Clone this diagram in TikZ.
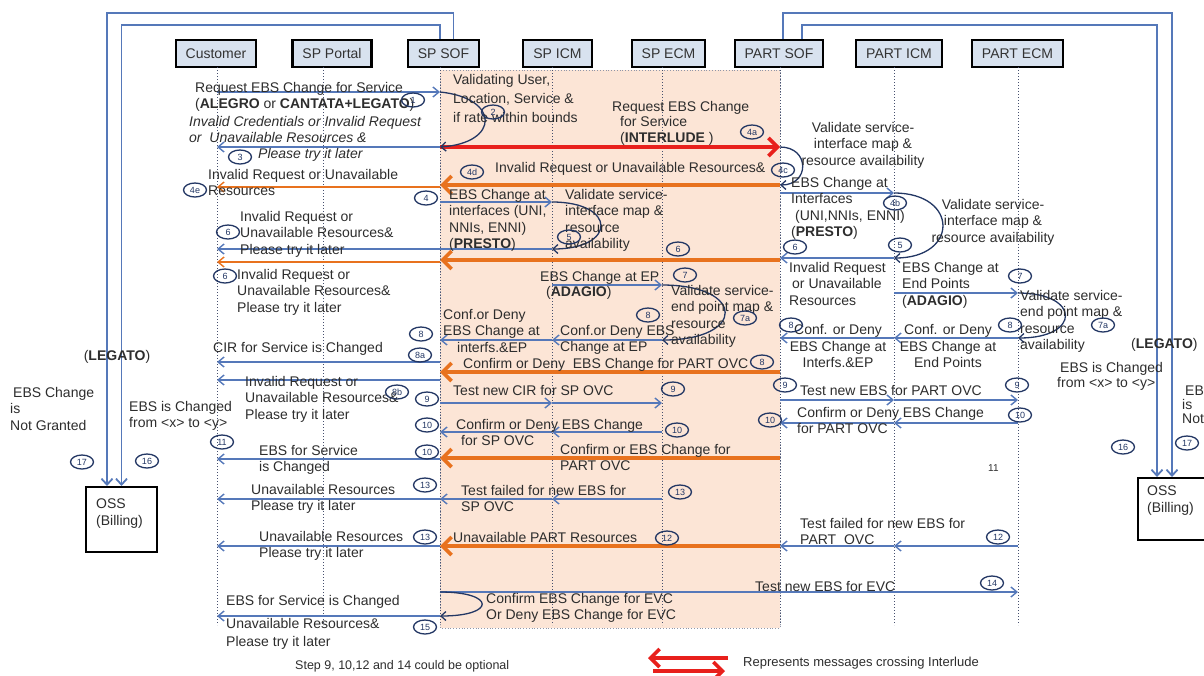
\documentclass[tikz,border=0pt]{standalone}
\usepackage{fontspec}
\setmainfont{Liberation Sans}
\usepackage{tikz}
\usetikzlibrary{arrows.meta,shapes.geometric}

\definecolor{seqblue}{RGB}{85,120,185}
\definecolor{seqorange}{RGB}{232,114,30}
\definecolor{seqred}{RGB}{232,32,28}
\definecolor{peach}{RGB}{252,229,214}
\definecolor{boxblue}{RGB}{216,226,239}
\definecolor{numnavy}{RGB}{35,55,100}
\definecolor{txtgray}{RGB}{45,45,45}
\definecolor{lifegray}{RGB}{70,80,110}

\newcommand{\lblfont}{\fontsize{14}{16.5}\selectfont}
\newcommand{\numfont}{\fontsize{9}{9}\selectfont}

\tikzstyle{actor}=[draw=black,line width=2.2pt,fill=boxblue,minimum height=27pt,inner xsep=10pt,inner ysep=0pt,font=\lblfont,text=black!80]
\tikzstyle{oss}=[draw=black,line width=2pt,fill=white]
\tikzstyle{lifeline}=[draw=lifegray,line width=1pt,dotted]
\tikzstyle{msg}=[draw=seqblue,line width=1.4pt,-{Straight Barb[length=6pt,width=10pt]}]
\tikzstyle{omsg}=[draw=seqorange,line width=1.4pt,-{Straight Barb[length=6pt,width=10pt]}]
\tikzstyle{bigmsg}=[draw=seqorange,line width=3.6pt,-{Straight Barb[length=9pt,width=18pt]}]
\tikzstyle{redmsg}=[draw=seqred,line width=3.6pt,-{Straight Barb[length=9pt,width=18pt]}]
\tikzstyle{selfloop}=[draw=numnavy,line width=1.3pt,-{Straight Barb[length=5pt,width=9pt]}]
\tikzstyle{feed}=[draw=seqblue,line width=1.8pt,-{Straight Barb[length=6pt,width=11pt]}]
\tikzstyle{num}=[ellipse,draw=numnavy,line width=1.3pt,minimum width=23pt,minimum height=14pt,inner sep=0.5pt,font=\numfont,text=numnavy]
\tikzstyle{lbl}=[align=left,inner sep=0pt,font=\lblfont,text=txtgray]

\begin{document}
\begin{tikzpicture}[x=1pt,y=-1pt]
\useasboundingbox (0,0) rectangle (1204,675);

% interlude area
\fill[peach] (440,70) rectangle (780,628);
\draw[lifegray!60,dotted,line width=0.8pt] (440,70) rectangle (780,628);

% actors
\node[actor] (hcust) at (216,53.5) {Customer};
\node[actor] (hportal) at (332,53.5) {SP Portal};
\node[actor] (hsof) at (443.5,53.5) {SP SOF};
\node[actor] (hicm) at (557.5,53.5) {SP ICM};
\node[actor] (hecm) at (668.5,53.5) {SP ECM};
\node[actor] (hpsof) at (779,53.5) {PART SOF};
\node[actor] (hpicm) at (899,53.5) {PART ICM};
\node[actor] (hpecm) at (1017.5,53.5) {PART ECM};

% lifelines
\foreach \nm/\x in {cust/217,portal/323,sof/440,icm/552,ecm/662,psof/780,picm/894,pecm/1018}{
  \coordinate (\nm) at (\x,67);
  \draw[lifeline] (\nm) -- (\x,625);
}

% message rows
\foreach \rw/\yy in {m1/92,m3/147,m4d/185,m4e/187,m4/202,m4b/193,m6a/249,m6b/260,m6c/262,m6p/258,
  m7/285,m7p/293,m8/340,m8p/338,m8a/362,m8o/372,m8b/380,m9/403,m9p/400,m10/432,m10p/423,
  m10o/458,m11/459,m13/499,m12/546,m14/592,m15/616}
  \coordinate (\rw) at (0,\yy);

% billing systems
\node[oss,minimum width=71pt,minimum height=65pt] (ossl) at (121.5,519.5) {};
\node[oss,minimum width=77pt,minimum height=62pt] (ossr) at (1176.5,509) {};
\node[lbl,anchor=north west] (ossltxt) at (96,499) {OSS\\(Billing)};
\node[lbl,anchor=north west] (ossrtxt) at (1147,486) {OSS\\(Billing)};

\draw[feed] ([xshift=10pt]hsof.north) -- ++(0,-26) -| ([xshift=-14.5pt]ossl.north);
\draw[feed] ([xshift=-3.5pt]hsof.north) -- ++(0,-14) -| (ossl.north);
\draw[feed] ([xshift=4pt]hpsof.north) -- ++(0,-26) -| ([xshift=-4.5pt]ossr.north);
\draw[feed] ([xshift=23pt]hpsof.north) -- ++(0,-14) -| ([xshift=-19.5pt]ossr.north);

% blue messages
\foreach \src/\dst/\rw in {cust/sof/m1, sof/cust/m3, sof/icm/m4, psof/picm/m4b, icm/cust/m6a,
  picm/psof/m6p, icm/ecm/m7, picm/pecm/m7p, ecm/icm/m8, icm/sof/m8, pecm/picm/m8p, picm/psof/m8p,
  sof/cust/m8a, sof/cust/m8b, sof/icm/m9, icm/ecm/m9, psof/picm/m9p, picm/pecm/m9p,
  pecm/picm/m10p, picm/psof/m10p, ecm/icm/m10, icm/sof/m10, sof/cust/m11, ecm/icm/m13,
  icm/sof/m13, sof/cust/m13, pecm/picm/m12, picm/psof/m12, sof/cust/m12, sof/pecm/m14, sof/cust/m15}
  \draw[msg] (\src |- \rw) -- (\dst |- \rw);

% orange messages
\draw[omsg] (sof |- m4e) -- (cust |- m4e);
\draw[omsg] (sof |- m6c) -- (cust |- m6c);
\foreach \rw in {m4d,m6b,m8o,m10o,m12}
  \draw[bigmsg] (psof |- \rw) -- (sof |- \rw);
\draw[redmsg] (sof |- m3) -- (psof |- m3);

% self checks
\draw[selfloop] (sof |- m1) .. controls +(60,6) and +(60,-4) .. (sof |- m3);
\draw[selfloop] (psof |- m3) .. controls +(30,0) and +(30,0) .. (psof |- m4d);
\draw[selfloop] (icm |- m4) .. controls +(65,0) and +(65,0) .. (icm |- m6a);
\draw[selfloop] (picm |- m4b) .. controls +(65,0) and +(65,0) .. (picm |- m6p);
\draw[selfloop] (ecm |- m7) .. controls +(84,0) and +(84,0) .. (ecm |- m8);
\draw[selfloop] (pecm |- m7p) .. controls +(63,0) and +(63,0) .. (pecm |- m8p);
\draw[selfloop] (sof |- m14) .. controls +(56,0) and +(56,0) .. (sof |- m15);

% labels
\node[lbl,anchor=north west] (t1) at (195,82) {Request EBS Change for Service\\(\textbf{ALEGRO} or \textbf{CANTATA+LEGATO})};
\node[lbl,anchor=north west,font=\lblfont\itshape] (t3) at (189,116) {Invalid Credentials or Invalid Request\\or\ \ Unavailable Resources \&};
\node[lbl,anchor=west,font=\lblfont\itshape] (t3b) at (258,155) {Please try it later};
\node[lbl,anchor=north west,font=\fontsize{14}{19}\selectfont] (t2) at (453,74) {Validating User,\\Location, Service \&\\if rate within bounds};
\node[lbl,anchor=north west,font=\fontsize{14}{15.5}\selectfont] (t4a) at (612,101) {Request EBS Change\\\hspace*{8pt}for Service\\\hspace*{8pt}(\textbf{INTERLUDE} )};
\node[lbl,align=center] (t4c) at (863,145) {Validate service-\\interface map \&\\resource availability};
\node[lbl,anchor=west] (t4d) at (495,169) {Invalid Request or Unavailable Resources\&};
\node[lbl,anchor=north west] (t4e) at (208,169) {Invalid Request or Unavailable\\Resources};
\node[lbl,anchor=north west] (t4) at (449,189) {EBS Change at\\interfaces (UNI,\\NNIs, ENNI)\\(\textbf{PRESTO})};
\node[lbl,anchor=north west] (t5) at (565,189) {Validate service-\\interface map \&\\resource\\availability};
\node[lbl,anchor=north west] (t6a) at (240,211) {Invalid Request or\\Unavailable Resources\&\\Please try it later};
\node[lbl,anchor=north west] (t6c) at (237,269) {Invalid Request or\\Unavailable Resources\&\\Please try it later};
\node[lbl,anchor=north west] (t4b) at (791,177) {EBS Change at\\Interfaces\\\hspace*{4pt}(UNI,NNIs, ENNI)\\(\textbf{PRESTO})};
\node[lbl,align=center] (t5p) at (993,222) {Validate service-\\interface map \&\\resource availability};
\node[lbl,anchor=north west] (t6p) at (789,262) {Invalid Request\\\hspace*{3pt}or Unavailable\\Resources};
\node[lbl,anchor=north west] (t7p) at (902,262) {EBS Change at\\End Points\\(\textbf{ADAGIO})};
\node[lbl,anchor=north west] (t7ap) at (1020,290) {Validate service-\\end point map \&\\resource\\availability};
\node[lbl,align=center] (t8p2) at (948,346) {Conf. or Deny\\EBS Change at\\End Points};
\node[lbl,align=center] (t8p1) at (838,346) {Conf. or Deny\\EBS Change at\\Interfs.\&EP};
\node[lbl,anchor=north west,font=\fontsize{14}{15}\selectfont] (t7) at (540,271) {EBS Change at EP\\\hspace*{6pt}(\textbf{ADAGIO})};
\node[lbl,anchor=north west] (t7a) at (671,285) {Validate service-\\end point map \&\\resource\\availability};
\node[lbl,anchor=north west] (t8b) at (560,325) {Conf.or Deny EBS\\Change at EP};
\node[lbl,anchor=north west] (t8a) at (443,309) {Conf.or Deny\\EBS Change at\\\hspace*{14pt}interfs.\&EP};
\node[lbl,anchor=west] (t8a2) at (213,349) {CIR for Service is Changed};
\node[lbl,anchor=west] (t8o) at (463,365) {Confirm or Deny\ \ EBS Change for PART OVC};
\node[lbl,anchor=north west] (t8b2) at (245,376) {Invalid Request or\\Unavailable Resources\&\\Please try it later};
\node[lbl,anchor=west] (t9) at (453,390) {Test new CIR for SP OVC};
\node[lbl,anchor=west] (t9p) at (800,390) {Test new EBS for PART OVC};
\node[lbl,anchor=north west] (t10p) at (797,407) {Confirm or Deny EBS Change\\for PART OVC};
\node[lbl,anchor=north west] (t10) at (456,419) {Confirm or Deny EBS Change\\\hspace*{5pt}for SP OVC};
\node[lbl,anchor=north west] (t10o) at (560,444) {Confirm or EBS Change for\\PART OVC};
\node[lbl,anchor=north west] (t11) at (259,445) {EBS for Service\\is Changed};
\node[lbl,anchor=north west] (t13s) at (461,485) {Test failed for new EBS for\\SP OVC};
\node[lbl,anchor=north west] (t13c) at (251,484) {Unavailable Resources\\Please try it later};
\node[lbl,anchor=north west] (t12p) at (800,518) {Test failed for new EBS for\\PART\ \ OVC};
\node[lbl,anchor=west] (t12o) at (453,537) {Unavailable PART Resources};
\node[lbl,anchor=north west] (t13b) at (259,531) {Unavailable Resources\\Please try it later};
\node[lbl,anchor=west] (t14) at (755,586) {Test new EBS for EVC};
\node[lbl,anchor=north west] (t15s) at (486,593) {Confirm EBS Change for EVC\\Or Deny EBS Change for EVC};
\node[lbl,anchor=west] (t15c) at (226,602) {EBS for Service is Changed};
\node[lbl,anchor=north west,font=\fontsize{14}{18}\selectfont] (t15d) at (226,618) {Unavailable Resources\&\\Please try it later};
\node[lbl,anchor=west,font=\fontsize{10}{12}\selectfont] (t11x) at (988,468) {11};

% billing labels
\node[lbl] (tlegl) at (117,357) {(\textbf{LEGATO})};
\node[lbl,anchor=north west] (tngl) at (10,387) {\hspace*{3pt}EBS Change\\is\\Not Granted};
\node[lbl,anchor=north west] (tchgl) at (129,401) {EBS is Changed\\from <x> to <y>};
\node[lbl,anchor=west] (tlegr) at (1131,345) {(\textbf{LEGATO})};
\node[lbl,anchor=north west,font=\fontsize{14}{15}\selectfont] (tchgr) at (1057,362) {\hspace*{3pt}EBS is Changed\\from <x> to <y>};
\node[lbl,anchor=north west,font=\fontsize{14}{14}\selectfont] (tngr) at (1182,385) {\hspace*{3pt}EBS Change\\is\\Not Granted};

% step numbers
\foreach \nm/\x/\y/\lab in {n1/413/100/1, n2/493/112/2, n3/240/157/3, n4a/752/132/4a, n4c/783/170/4c,
  n4d/472/172/4d, n4e/195/190/4e, n4/426/198/4, n5/569/237/5, n6a/228/232/6, n6b/678/249/6,
  n6c/225/276/6, n4b/895/203/4b, n5p/900/245/5, n6p/795/247/6, n7p/1020/276/7, n7ap/1103/325/7a,
  n8p1/791/325/8, n8p2/1010/325/8, n7/685/275/7, n7a/745/318/7a, n8b/648/315/8, n8a/421/334/8,
  n8a2/420/355/8a, n8o/762/362/8, n8b2/397/392/8b, n9/427/399/9, n9b/673/389/9, n9p/785/385/9,
  n9p2/1017/385/9, n10p/1020/415/10, n10p2/770/420/10, n10a/427/425/10, n10b/677/430/10,
  n10o/427/452/10, n11/222/442/11, n13a/425/485/13, n13b/680/492/13, n13c/425/537/13,
  n12o/667/538/12, n12p/998/537/12, n14/992/583/14, n15/425/627/15, n16l/147/461/16,
  n17l/82/462/17, n16r/1123/447/16, n17r/1187/443/17}
  \node[num] (\nm) at (\x,\y) {\lab};

% footer and legend
\node[lbl,anchor=west,font=\fontsize{12.5}{14}\selectfont] (tstep) at (295,666) {Step 9, 10,12 and 14 could be optional};
\coordinate (lgA) at (728,658);
\coordinate (lgB) at (648,658);
\coordinate (lgC) at (653,671);
\coordinate (lgD) at (725,671);
\draw[redmsg] (lgA) -- (lgB);
\draw[redmsg] (lgC) -- (lgD);
\node[lbl,anchor=west,font=\fontsize{13}{15}\selectfont] (tleg) at (743,663) {Represents messages crossing Interlude};
\end{tikzpicture}
\end{document}
